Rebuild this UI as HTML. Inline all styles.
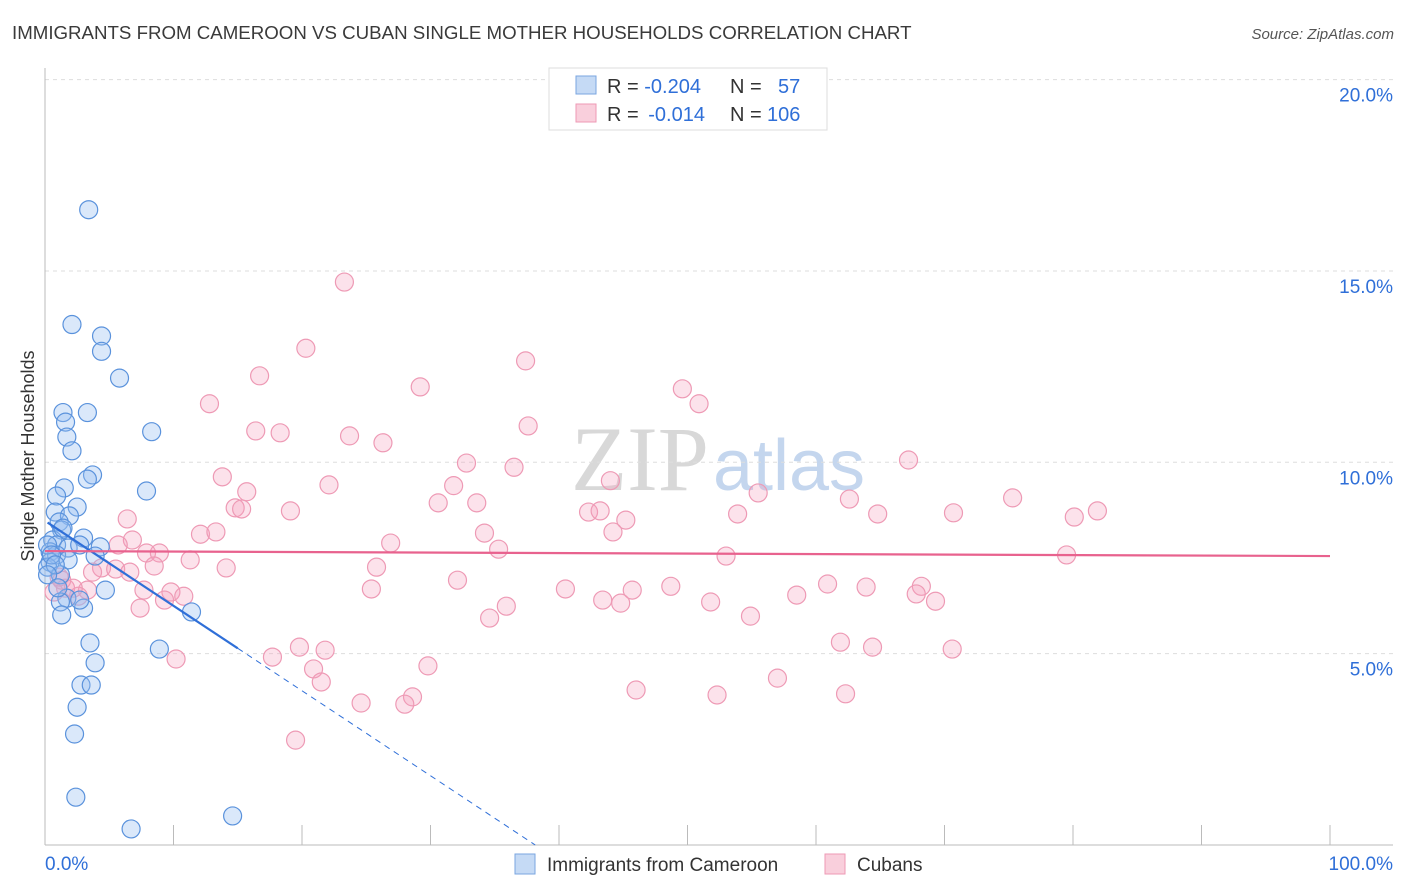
<!DOCTYPE html>
<html><head><meta charset="utf-8"><style>
body{margin:0;background:#fff;font-family:"Liberation Sans",sans-serif}
svg{display:block}
</style></head><body>
<svg id="chart" width="1406" height="892" viewBox="0 0 1406 892" xmlns="http://www.w3.org/2000/svg" font-family="Liberation Sans, sans-serif">
<text x="12" y="39" font-size="18.7" fill="#3a3a3a">IMMIGRANTS FROM CAMEROON VS CUBAN SINGLE MOTHER HOUSEHOLDS CORRELATION CHART</text>
<text x="1394" y="39" font-size="15" fill="#555" font-style="italic" text-anchor="end">Source: ZipAtlas.com</text>
<text x="718" y="490" font-size="92" text-anchor="middle"><tspan fill="#d8d8d8" font-family="Liberation Serif, serif">ZIP</tspan><tspan fill="#c4d6ee" font-size="72" dx="4">atlas</tspan></text>
<g id="grid"></g>
<g id="axes"></g>
<g id="pts"></g>
<g id="lines"></g>
<text transform="translate(34,456) rotate(-90)" font-size="18" fill="#333" text-anchor="middle">Single Mother Households</text>
<g>
<rect x="549" y="68" width="278" height="62" fill="#fff" stroke="#ddd"/>
<rect x="576" y="76" width="20" height="18" fill="#c5daf5" stroke="#7aa6e0"/>
<rect x="576" y="104" width="20" height="18" fill="#f9cfdc" stroke="#ee9ab5"/>
<text x="607" y="93" font-size="20" fill="#333">R = <tspan fill="#2f6fd8">-0.204</tspan><tspan x="730">N = </tspan><tspan x="778" fill="#2f6fd8">57</tspan></text>
<text x="607" y="121" font-size="20" fill="#333">R = <tspan fill="#2f6fd8" dx="4">-0.014</tspan><tspan x="730">N = </tspan><tspan x="767" fill="#2f6fd8">106</tspan></text>
</g>
<g>
<rect x="515" y="854" width="20" height="20" fill="#c5daf5" stroke="#7aa6e0"/>
<text x="547" y="871" font-size="19" fill="#333">Immigrants from Cameroon</text>
<rect x="825" y="854" width="20" height="20" fill="#f9cfdc" stroke="#ee9ab5"/>
<text x="857" y="871" font-size="19" fill="#333">Cubans</text>
</g>
</svg>
<script>
const yTicks=[5,10,15,20];
const yTickLabels=["5.0%","10.0%","15.0%","20.0%"];
const xTickLabels=["0.0%","100.0%"];
const blueX=[3.4,2.1,4.4,4.4,5.8,1.4,3.3,1.6,1.7,8.3,2.1,3.7,3.3,7.9,1.5,0.9,2.5,0.8,1.9,1.1,1.3,3.0,0.6,0.9,1.8,4.3,0.4,0.9,1.8,3.9,0.4,0.2,1.2,4.7,1.7,1.2,3.0,11.4,1.3,3.5,8.9,3.9,2.8,3.6,2.5,2.3,2.4,6.7,14.6,0.2,0.5,0.8,2.7,1.4,0.2,1.0,2.7];
const blueY=[16.6,13.6,13.3,12.9,12.2,11.3,11.3,11.05,10.66,10.8,10.3,9.67,9.56,9.25,9.33,9.12,8.83,8.7,8.6,8.44,8.23,8.02,7.97,7.84,7.76,7.79,7.66,7.58,7.45,7.55,7.39,7.26,7.06,6.66,6.45,6.35,6.19,6.09,6.01,5.28,5.12,4.76,4.18,4.18,3.6,2.9,1.25,0.42,0.76,7.84,7.58,7.32,7.84,8.28,7.06,6.72,6.4];
const pinkX=[23.3,20.3,37.4,16.7,29.2,49.6,12.8,50.9,16.4,18.3,23.7,26.3,37.6,32.8,36.5,67.2,13.8,22.1,15.7,31.8,44.0,55.5,62.6,75.3,30.6,33.6,14.8,15.3,19.1,42.3,43.2,6.4,45.2,53.9,64.8,70.7,80.1,81.9,12.1,13.3,34.2,44.2,6.8,26.9,5.7,7.9,8.9,35.3,53.0,79.5,11.3,14.1,8.5,25.8,4.4,5.5,6.6,3.7,32.1,1.1,1.6,0.7,3.3,2.6,7.7,9.8,10.8,9.3,25.4,40.5,45.7,48.7,60.9,63.9,68.2,67.8,58.5,43.4,44.8,51.8,69.3,7.4,35.9,34.6,54.9,61.9,64.4,70.6,19.8,21.8,17.7,10.2,20.9,29.8,21.5,46.0,52.3,57.0,62.3,24.6,28.6,28.0,19.5,2.2,1.3];
const pinkY=[14.71,12.98,12.65,12.26,11.97,11.92,11.53,11.53,10.82,10.77,10.69,10.51,10.95,9.98,9.87,10.06,9.62,9.41,9.23,9.39,9.52,9.2,9.04,9.07,8.94,8.94,8.81,8.78,8.73,8.7,8.73,8.52,8.49,8.65,8.65,8.68,8.57,8.73,8.12,8.18,8.15,8.18,7.97,7.89,7.84,7.63,7.63,7.73,7.55,7.58,7.45,7.24,7.29,7.26,7.24,7.21,7.13,7.13,6.92,7.0,6.71,6.61,6.66,6.5,6.66,6.61,6.5,6.4,6.69,6.69,6.66,6.76,6.82,6.74,6.76,6.56,6.53,6.4,6.32,6.35,6.37,6.19,6.24,5.93,5.98,5.3,5.17,5.12,5.17,5.09,4.91,4.86,4.6,4.68,4.26,4.05,3.92,4.36,3.95,3.71,3.87,3.68,2.74,6.71,6.92];
const blueTrend=[8.47,-0.222];
const pinkTrend=[7.68,-0.0013];
const NS="http://www.w3.org/2000/svg";
const X0=45,X1=1330,Y0=845,PY=38.27;
const sx=v=>X0+(X1-X0)*v/100;
const sy=v=>Y0-v*PY;
function mk(tag,attrs,parent){const e=document.createElementNS(NS,tag);for(const k in attrs)e.setAttribute(k,attrs[k]);parent.appendChild(e);return e;}
const grid=document.getElementById('grid'),axes=document.getElementById('axes'),pts=document.getElementById('pts'),lines=document.getElementById('lines');
yTicks.forEach((t,i)=>{
 const l=mk('line',{x1:45,x2:1393,y1:sy(t),y2:sy(t),stroke:'#ddd','stroke-dasharray':'4,4'},grid);
 
 
 const tx=mk('text',{x:1393,y:sy(t)+22,'font-size':19,fill:'#2f6fd8','text-anchor':'end'},axes);
 tx.textContent=yTickLabels[i];
 
 
});
const ax=mk('line',{x1:45,x2:1393,y1:Y0,y2:Y0,stroke:'#bbb'},axes);


const ay=mk('line',{x1:45,x2:45,y1:68,y2:Y0,stroke:'#bbb'},axes);


for(let i=0;i<=10;i++){
 const t=mk('line',{x1:sx(i*10),x2:sx(i*10),y1:825,y2:Y0,stroke:'#bbb'},axes);
 
 
}
[[0,'start',45],[100,'end',1393]].forEach((d,i)=>{
 const t=mk('text',{x:d[2],y:870,'font-size':19,fill:'#2f6fd8','text-anchor':d[1]},axes);
 t.textContent=xTickLabels[i];
 
 
});
pinkX.forEach((v,i)=>{
 const c=mk('circle',{cx:sx(v),cy:sy(pinkY[i]),r:9,fill:'rgba(244,160,188,0.3)',stroke:'#ee9ab5','stroke-width':1.2},pts);
 
 
});
blueX.forEach((v,i)=>{
 const c=mk('circle',{cx:sx(v),cy:sy(blueY[i]),r:9,fill:'rgba(150,190,240,0.35)',stroke:'#5a92dc','stroke-width':1.2},pts);
 
 
});
const bf=x=>blueTrend[0]+blueTrend[1]*x;
const bEnd=-blueTrend[0]/blueTrend[1];
let l1=mk('line',{x1:sx(0.2),y1:sy(bf(0.2)),x2:sx(15),y2:sy(bf(15)),stroke:'#2f6fd8','stroke-width':2.2},lines);


let l2=mk('line',{x1:sx(15),y1:sy(bf(15)),x2:sx(bEnd),y2:sy(0),stroke:'#2f6fd8','stroke-width':1,'stroke-dasharray':'6,5'},lines);


const pf=x=>pinkTrend[0]+pinkTrend[1]*x;
let l3=mk('line',{x1:sx(0),y1:sy(pf(0)),x2:sx(100),y2:sy(pf(100)),stroke:'#e8628e','stroke-width':2.2},lines);


</script>
</body></html>
